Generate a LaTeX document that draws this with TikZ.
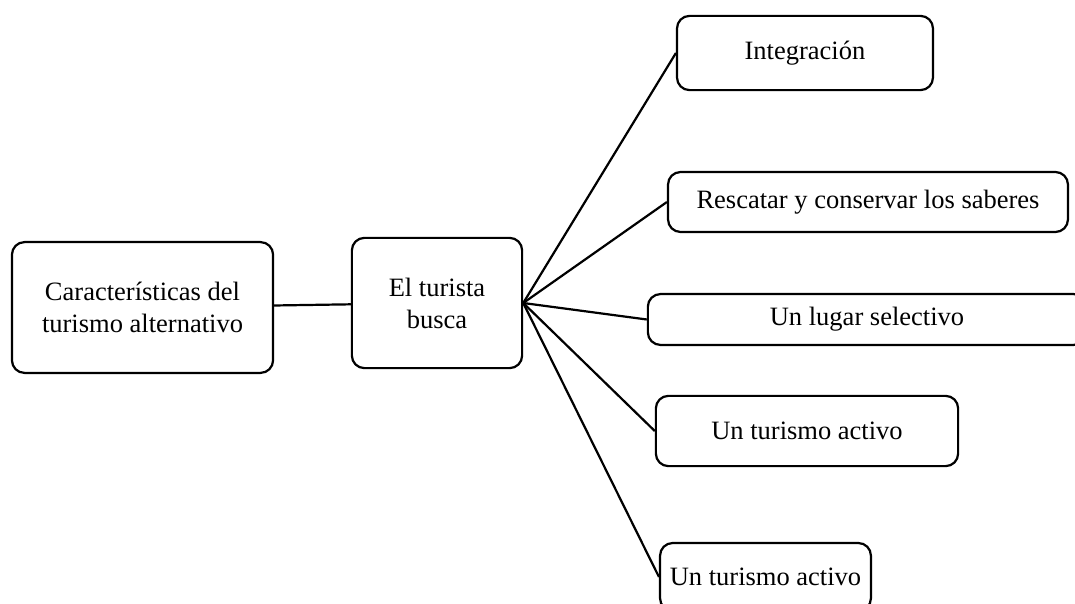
\documentclass[tikz,border=0pt]{standalone}
\usepackage{fontspec}
\setmainfont{Liberation Serif}
\usetikzlibrary{positioning}

\begin{document}
\begin{tikzpicture}[x=0.0175cm,y=-0.0175cm,inner sep=1mm,
  box/.style={rectangle,rounded corners=2.2mm,draw=black,line width=1.1pt,
    align=center,font=\fontsize{13.2}{16}\selectfont}]
  \useasboundingbox (0,0) rectangle (1075,604);
  \clip (0,0) rectangle (1075,604);
  \node[box,minimum width=4.57cm,minimum height=2.29cm] (carac) at (142.5,307.5) {Características del\\turismo alternativo};
  \node[box,minimum width=2.98cm,minimum height=2.28cm] (busca) at (437,303) {El turista\\busca};
  \node[box,minimum width=4.48cm,minimum height=1.30cm] (integ) at (805,53) {Integración};
  \node[box,minimum width=7.00cm,minimum height=1.05cm] (resc) at (868,202) {Rescatar y conservar los saberes};
  \node[box,minimum width=7.67cm,minimum height=0.89cm] (lugar) at (867,319.5) {Un lugar selectivo};
  \node[box,minimum width=5.29cm,minimum height=1.23cm] (activo) at (807,431) {Un turismo activo};
  \node[box,minimum width=3.69cm,minimum height=1.19cm] (activob) at (765.5,577) {Un turismo activo};
  \draw[line width=1.1pt] (carac) -- (busca);
  \foreach \n in {integ,resc,lugar,activo,activob}
    \draw[line width=1.1pt] (busca.east) -- (\n.west);
\end{tikzpicture}
\end{document}
